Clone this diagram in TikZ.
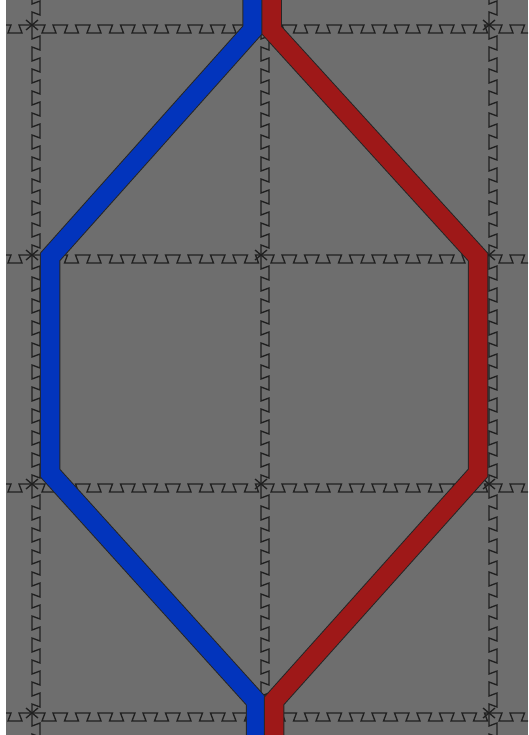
\documentclass[tikz,border=0pt]{standalone}
\definecolor{tilegray}{RGB}{110,110,110}
\definecolor{pathblue}{RGB}{2,52,188}
\definecolor{pathred}{RGB}{158,24,24}
\definecolor{seam}{RGB}{32,32,32}
\begin{document}
\begin{tikzpicture}[x=1pt,y=-1pt,
  tileline/.style={draw=seam, line width=1.3pt, line join=miter},
  pathout/.style={draw=black!85, line width=20.5pt, line join=miter},
  bluepath/.style={draw=pathblue, line width=18.5pt, line join=miter},
  redpath/.style={draw=pathred, line width=18.5pt, line join=miter}]
\useasboundingbox (0,0) rectangle (528,735);
\fill[white] (0,0) rectangle (528,735);
\begin{scope}
\clip (6,0) rectangle (528,735);
\fill[tilegray] (6,0) rectangle (528,735);
% horizontal seams with dovetail tabs hanging down
\foreach \Y in {25,255,484,713} {
  \draw[tileline] (0,\Y)
    foreach \c in {15,49,71.5,94,116.5,139,161.5,184,206.5,229,251.5,278,300.5,323,345.5,368,390.5,413,435.5,458,480.5,506,528.5}
    { -- (\c-4,\Y) -- (\c-7,\Y+8) -- (\c+7,\Y+8) -- (\c+4,\Y) } -- (540,\Y);
}
% vertical seams with dovetail tabs to the right
\foreach \X in {32,261,489} {
  \draw[tileline] (\X,-5)
    foreach \c in {8,43,65,87,109,131,153,175,197,219,241,273,295,317,339,361,383,405,427,449,471,502,524,546,568,590,612,634,656,678,700,730}
    { -- (\X,\c-4) -- (\X+8,\c-7) -- (\X+8,\c+7) -- (\X,\c+4) } -- (\X,745);
}
% crossing marks at the seam junctions
\foreach \X in {32,261,489} {
  \foreach \Y in {25,255,484,713} {
    \draw[tileline] (\X-6,\Y-5) -- (\X+6,\Y+5) (\X-6,\Y+5) -- (\X+6,\Y-5);
  }
}
% blue route
\draw[pathout] (252.5,-10) -- (252.5,30) -- (50,257) -- (50,473) -- (256,701) -- (256,745);
\draw[bluepath] (252.5,-10) -- (252.5,30) -- (50,257) -- (50,473) -- (256,701) -- (256,745);
% red route
\draw[pathout] (271.5,-10) -- (271.5,30) -- (478,257) -- (478,473) -- (274,701) -- (274,745);
\draw[redpath] (271.5,-10) -- (271.5,30) -- (478,257) -- (478,473) -- (274,701) -- (274,745);
\end{scope}
\end{tikzpicture}
\end{document}
